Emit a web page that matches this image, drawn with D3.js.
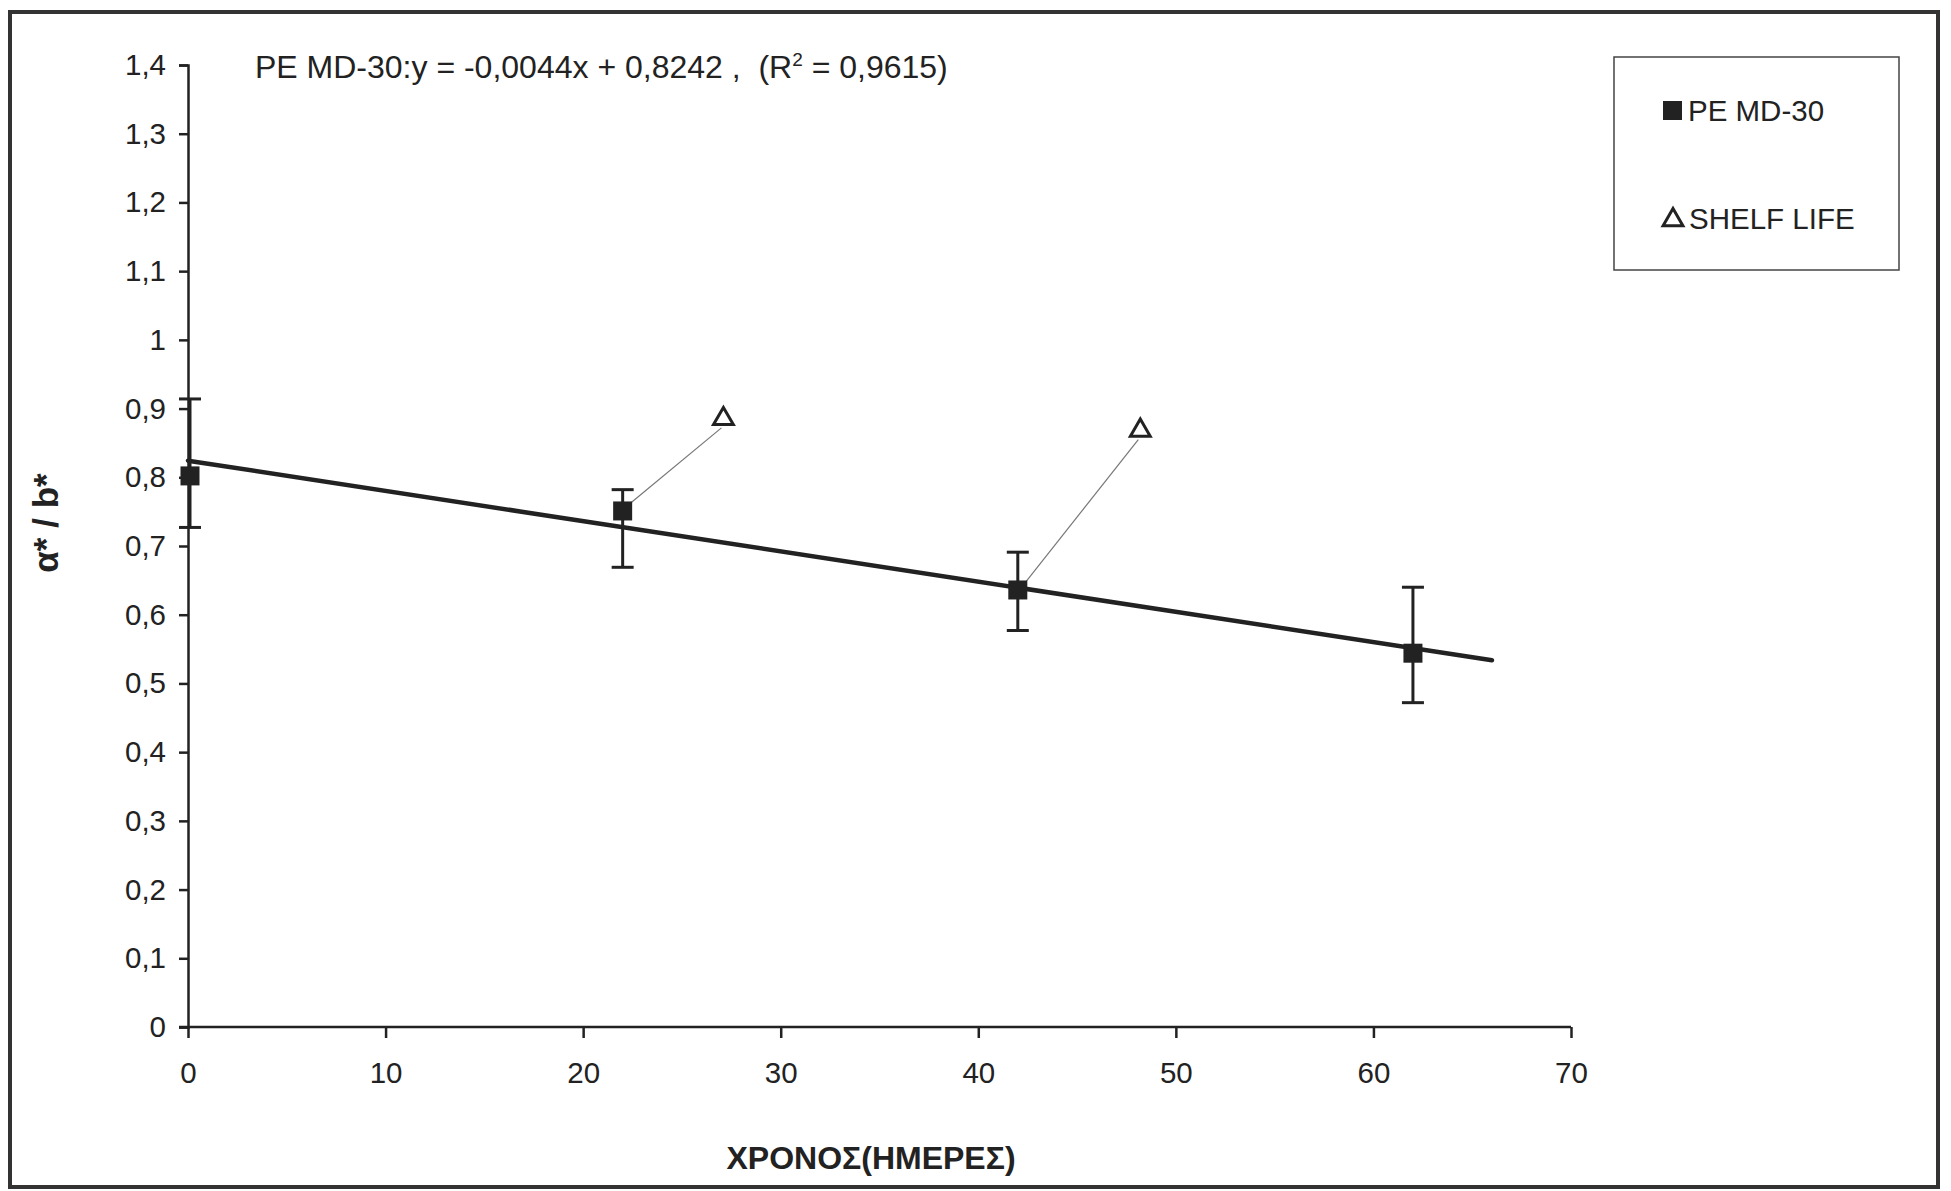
<!DOCTYPE html>
<html><head><meta charset="utf-8">
<script src="https://cdn.jsdelivr.net/npm/d3@7"></script>
<style>
html,body{margin:0;padding:0;background:#fff;}
svg{display:block;font-family:"Liberation Sans",Arial,sans-serif;}
</style></head>
<body>
<svg id="chart" width="1951" height="1191"></svg>
<script>
// ---- data ----
const days = [0, 22, 42, 62];
const ratio = [0.802, 0.751, 0.636, 0.544];
const errUp = [0.914, 0.782, 0.691, 0.640];
const errDown = [0.727, 0.669, 0.577, 0.472];
const shelfDays = [27.1, 48.2];
const shelfRatio = [0.885, 0.868];
const shelfFrom = [1, 2]; // index of the PE MD-30 point each shelf-life mark points to
const slope = -0.0044, intercept = 0.8242, fitEnd = 66;
const xTicks = [0, 10, 20, 30, 40, 50, 60, 70];
const yTicks = [0, 0.1, 0.2, 0.3, 0.4, 0.5, 0.6, 0.7, 0.8, 0.9, 1, 1.1, 1.2, 1.3, 1.4];
const seriesName = "PE MD-30", shelfName = "SHELF LIFE";
const xTitle = "ΧΡΟΝΟΣ(ΗΜΕΡΕΣ)", yTitle = "α* / b*";

const svg = d3.select("#chart");
const x = d3.scaleLinear().domain([0, 70]).range([188, 1571]);
const y = d3.scaleLinear().domain([0, 1.4]).range([1027, 65]);
const fmt = d => String(+d.toFixed(1)).replace(".", ",");

// outer frame
svg.append("rect").attr("x", 10).attr("y", 12).attr("width", 1928).attr("height", 1175)
  .attr("fill", "none").attr("stroke", "#333").attr("stroke-width", 4);

// axes
const yAx = svg.append("g").attr("transform", `translate(${x(0)},0)`)
  .call(d3.axisLeft(y).tickValues(yTicks).tickFormat(fmt).tickSize(9).tickPadding(13));
const xAx = svg.append("g").attr("transform", `translate(0,${y(0)})`)
  .call(d3.axisBottom(x).tickValues(xTicks).tickFormat(d3.format("d")).tickSize(11).tickPadding(24));
[yAx, xAx].forEach(g => {
  g.select(".domain").attr("stroke", "#222").attr("stroke-width", 2.5);
  g.selectAll(".tick line").attr("stroke", "#222").attr("stroke-width", 2.5);
  g.selectAll("text").attr("fill", "#222").attr("font-size", 29.5).attr("font-family", "Liberation Sans, Arial, sans-serif");
});
xAx.select(".domain").attr("d", `M${x(0)-9},0H${x(70)}`);

// regression line
svg.append("line").attr("x1", x(0)).attr("y1", y(intercept))
  .attr("x2", x(fitEnd)).attr("y2", y(intercept + slope * fitEnd))
  .attr("stroke", "#222").attr("stroke-width", 4.5).attr("stroke-linecap", "round");

// leader lines
shelfDays.forEach((d, i) => {
  const j = shelfFrom[i];
  svg.append("line").attr("x1", x(days[j]) + 8).attr("y1", y(ratio[j]) - 8)
    .attr("x2", x(d) - 2).attr("y2", y(shelfRatio[i]) + 9)
    .attr("stroke", "#777").attr("stroke-width", 1.2);
});

// error bars
const cap = 11;
days.forEach((d, i) => {
  const cx = x(d) + (i === 0 ? 2 : 0);
  const g = svg.append("g").attr("stroke", "#222").attr("stroke-width", 3);
  g.append("line").attr("x1", cx).attr("x2", cx).attr("y1", y(errUp[i])).attr("y2", y(errDown[i]));
  g.append("line").attr("x1", cx - cap).attr("x2", cx + cap).attr("y1", y(errUp[i])).attr("y2", y(errUp[i]));
  g.append("line").attr("x1", cx - cap).attr("x2", cx + cap).attr("y1", y(errDown[i])).attr("y2", y(errDown[i]));
});

// squares
const sq = 19;
svg.selectAll("rect.pt").data(days).enter().append("rect").attr("class", "pt")
  .attr("x", (d) => x(d) - sq / 2 + (d === 0 ? 2 : 0)).attr("y", (d, i) => y(ratio[i]) - sq / 2)
  .attr("width", sq).attr("height", sq).attr("fill", "#222");

// triangles
const tri = d3.symbol().type(d3.symbolTriangle).size(170);
svg.selectAll("path.tri").data(shelfDays).enter().append("path").attr("class", "tri")
  .attr("d", tri).attr("transform", (d, i) => `translate(${x(d)},${y(shelfRatio[i])})`)
  .attr("fill", "#fff").attr("stroke", "#222").attr("stroke-width", 3);

// equation
const eq = svg.append("text").attr("x", 255).attr("y", 78).attr("font-size", 32).attr("fill", "#222")
  .style("white-space", "pre");
eq.append("tspan").text(`${seriesName}:y = ${String(slope).replace(".", ",")}x + ${String(intercept).replace(".", ",")} ,  (R`);
eq.append("tspan").attr("dy", -12).attr("font-size", 19).text("2");
eq.append("tspan").attr("dy", 12).text(" = 0,9615)");

// legend
svg.append("rect").attr("x", 1614).attr("y", 57).attr("width", 285).attr("height", 213)
  .attr("fill", "#fff").attr("stroke", "#444").attr("stroke-width", 1.5);
svg.append("rect").attr("x", 1663).attr("y", 101).attr("width", 19).attr("height", 19).attr("fill", "#222");
svg.append("text").attr("x", 1688).attr("y", 121).attr("font-size", 29.5).attr("fill", "#222").text(seriesName);
svg.append("path").attr("d", d3.symbol().type(d3.symbolTriangle).size(170)).attr("transform", "translate(1673,220)")
  .attr("fill", "#fff").attr("stroke", "#222").attr("stroke-width", 3);
svg.append("text").attr("x", 1689).attr("y", 229).attr("font-size", 29.5).attr("fill", "#222").text(shelfName);

// axis titles
svg.append("text").attr("x", 871).attr("y", 1169).attr("text-anchor", "middle")
  .attr("font-size", 32).attr("font-weight", "bold").attr("fill", "#222").text(xTitle);
svg.append("text").attr("transform", "translate(58,523) rotate(-90)").attr("text-anchor", "middle")
  .attr("font-size", 35).attr("font-weight", "bold").attr("fill", "#222").text(yTitle);
</script>
</body></html>
